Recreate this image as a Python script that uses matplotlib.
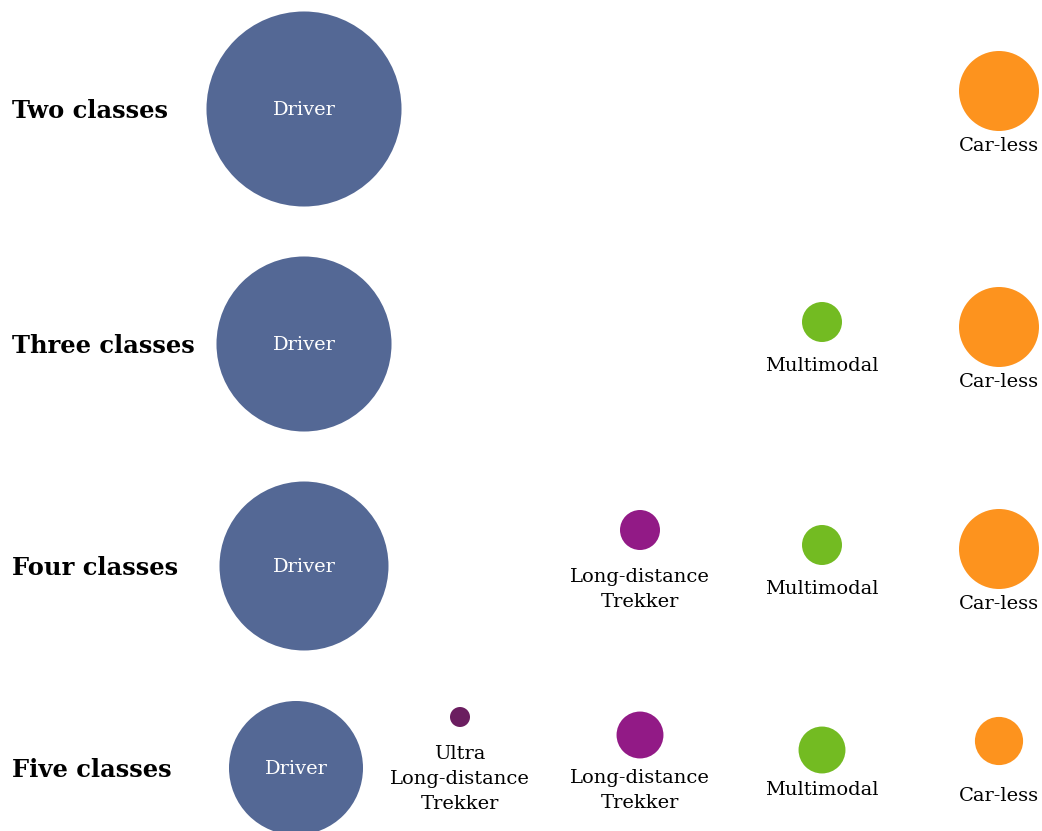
import numpy as np
import matplotlib
matplotlib.use("Agg")
import matplotlib.pyplot as plt

# ---------------- data ----------------
row_labels = ["Two classes", "Three classes", "Four classes", "Five classes"]

two_names = ["Driver", "Car-less"]
two_sizes = [95.1, 16.0]

three_names = ["Driver", "Multimodal", "Car-less"]
three_sizes = [76.6, 4.0, 16.0]

four_names = ["Driver", "Long-distance\nTrekker", "Multimodal", "Car-less"]
four_sizes = [71.4, 4.0, 4.0, 16.0]

five_names = ["Driver", "Ultra\nLong-distance\nTrekker", "Long-distance\nTrekker",
              "Multimodal", "Car-less"]
five_sizes = [44.9, 1.0, 5.5, 5.5, 5.8]

colors = {
    "Driver": "#546895",
    "Ultra\nLong-distance\nTrekker": "#6b1e60",
    "Long-distance\nTrekker": "#921a86",
    "Multimodal": "#73bb22",
    "Car-less": "#fd931e",
}

# ---------------- layout (pixel space) ----------------
W, H = 1042, 831
DPI = 100
col_x = {
    "Driver": 304,
    "Ultra\nLong-distance\nTrekker": 460,
    "Long-distance\nTrekker": 640,
    "Multimodal": 822,
    "Car-less": 999,
}
row_y = [109, 344, 566, 768]
circle_dy = [
    {"Car-less": -18},
    {"Multimodal": -22, "Car-less": -17},
    {"Long-distance\nTrekker": -36, "Multimodal": -21, "Car-less": -17},
    {"Driver": 0, "Ultra\nLong-distance\nTrekker": -51, "Long-distance\nTrekker": -33,
     "Multimodal": -18, "Car-less": -27},
]
label_y = [
    {"Car-less": 146},
    {"Multimodal": 366, "Car-less": 382},
    {"Long-distance\nTrekker": 577, "Multimodal": 589, "Car-less": 604},
    {"Ultra\nLong-distance\nTrekker": 754, "Long-distance\nTrekker": 778,
     "Multimodal": 790, "Car-less": 796},
]
driver_dx = [0, 0, 0, -8]
line_h = 25

rows = [(two_names, two_sizes), (three_names, three_sizes),
        (four_names, four_sizes), (five_names, five_sizes)]

plt.rcParams["font.family"] = ["DejaVu Serif"]

fig = plt.figure(figsize=(W / DPI, H / DPI), dpi=DPI)
ax = fig.add_axes([0, 0, 1, 1])
ax.set_xlim(0, W)
ax.set_ylim(H, 0)
ax.axis("off")

for i, (names, sizes) in enumerate(rows):
    ax.text(12, row_y[i] + 2, row_labels[i], fontsize=17.4, fontweight="bold",
            ha="left", va="center", color="#000000")
    for name, val in zip(names, sizes):
        r = 10 * np.sqrt(val)  # radius in px
        cx = col_x[name] + (driver_dx[i] if name == "Driver" else 0)
        cy = row_y[i] + circle_dy[i].get(name, 0)
        s = (2 * r * 72 / DPI) ** 2
        ax.scatter([cx], [cy], s=s, color=colors[name], edgecolors="none", zorder=2)
        if name == "Driver":
            ax.text(cx, cy + 1, name, color="white", fontsize=14, ha="center",
                    va="center", zorder=3)
        else:
            ly = label_y[i][name]
            for k, line in enumerate(name.split("\n")):
                ax.text(cx, ly + k * line_h, line, fontsize=14, ha="center",
                        va="center", color="#000000", zorder=3)

fig.savefig("out.png", dpi=DPI)
